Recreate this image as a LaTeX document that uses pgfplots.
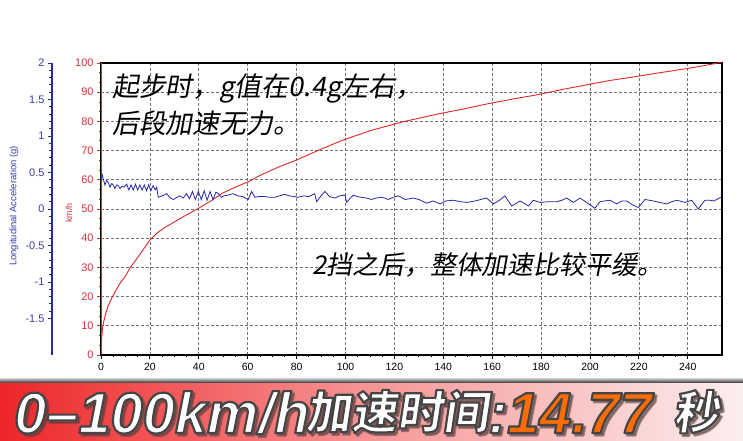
\documentclass[border=0pt]{standalone}
\usepackage{pgfplots}
\pgfplotsset{compat=1.18}
\usepackage{fontspec}
\setmainfont{Liberation Sans}
\newfontfamily\cjkslant{Noto Sans CJK SC}[FakeSlant=0.18]
\IfFontExistsTF{Noto Sans CJK SC Black}{%
  \newfontfamily\cjkbold{Noto Sans CJK SC Black}[FakeSlant=0.15]}{%
  \IfFontExistsTF{Noto Sans CJK SC Bold}{%
    \newfontfamily\cjkbold{Noto Sans CJK SC Bold}[FakeSlant=0.15]}{%
    \newfontfamily\cjkbold{Noto Sans CJK SC}[FakeSlant=0.15,FakeBold=3]}}
\definecolor{speedred}{RGB}{220,40,40}
\definecolor{redlab}{RGB}{215,50,60}
\definecolor{accblue}{RGB}{40,40,170}
\definecolor{bluelab}{RGB}{60,60,175}
\definecolor{gridgray}{RGB}{115,115,115}
\definecolor{bannerred}{RGB}{238,38,40}
\definecolor{bannermid}{RGB}{246,150,150}
\definecolor{bannerend}{RGB}{252,238,238}
\definecolor{orangenum}{RGB}{255,108,0}
\definecolor{shadowc}{RGB}{90,60,60}

\pgfplotstableread{
x v
0 3
0.3 6
0.6 9
1 11
2 14.5
3 17
4.4 19.5
6 22
8 24.8
9.8 26.8
12 30
15.3 33.7
18 37
20 39.4
22.8 41.7
26 43.6
30.3 45.7
35 48
39.8 50.2
45 52.8
49.4 55.3
55 57.5
60.2 59.3
65 61.5
73 64.5
80 66.8
90 70.5
99 73.6
110 76.8
123.6 79.9
138.7 82.7
148 84.2
158 86
168 87.6
179 89.2
189 91
198.6 92.5
208 94
218.4 95.3
228 96.6
238.2 97.9
246 99
253.5 100.2
}\speedtab

\pgfplotstableread{
x a
0 0.40
0.5 0.47
1 0.40
1.6 0.33
2.3 0.39
3 0.36
3.7 0.30
4.4 0.35
5 0.33
5.7 0.28
6.4 0.33
7.1 0.32
7.8 0.28
8.5 0.31
9.5 0.30
10.5 0.34
11.4 0.26
12.3 0.33
13.2 0.26
14.1 0.34
15 0.26
15.9 0.33
16.8 0.26
17.7 0.33
18.6 0.25
19.5 0.33
20.4 0.25
21.3 0.32
22.2 0.26
22.8 0.30
23.4 0.16
25 0.18
26.9 0.21
28.3 0.15
29.6 0.13
31 0.16
32.3 0.18
33.6 0.15
35 0.21
36.2 0.14
37.4 0.24
38.6 0.13
39.8 0.24
41 0.13
42.2 0.25
43.4 0.12
44.6 0.24
45.8 0.13
47 0.23
48 0.21
49.2 0.16
50.3 0.18
52 0.19
54 0.21
56 0.18
58 0.17
60.2 0.13
61.6 0.24
63 0.16
64.3 0.17
67 0.17
69 0.16
71 0.16
73 0.18
75.1 0.20
77 0.18
79 0.17
80.5 0.16
83 0.18
85 0.17
87.4 0.21
88.2 0.10
90 0.18
91.6 0.24
93.5 0.17
95.7 0.15
97.5 0.18
99.8 0.19
100.5 0.09
102 0.15
103.2 0.19
105 0.17
106.6 0.16
108.5 0.15
110.7 0.13
112.5 0.15
114.8 0.16
116 0.15
117.5 0.13
119.5 0.16
121.6 0.18
124.4 0.13
127.7 0.15
130 0.13
133.2 0.08
135.9 0.11
138.7 0.07
141 0.11
144.1 0.12
147 0.10
149.6 0.09
153 0.11
157.7 0.15
160.5 0.07
163 0.12
165.2 0.18
168 0.04
171.4 0.11
173 0.08
174.8 0.04
176.8 0.12
179.6 0.09
183 0.10
186.4 0.10
188.5 0.12
190.5 0.15
193.2 0.09
195.9 0.15
198.6 0.09
202 0.01
204.1 0.10
206 0.11
208.2 0.12
210.9 0.07
213 0.11
215 0.11
217.7 0.05
219.8 0.02
222.5 0.13
225.9 0.11
228.5 0.09
231.4 0.07
233.5 0.10
235.5 0.12
238.9 0.09
241.6 0.12
244.3 0.00
247 0.12
249 0.12
250.7 0.11
253.5 0.16
}\acctab

% shadow copy, then text with fill + dark stroke (PDF text render mode 2)
\newcommand\outtext[3]{%
  \node[anchor=base west, inner sep=0pt, text=shadowc, opacity=0.55, xshift=2.4bp, yshift=-2.4bp] at (#1) {\special{pdf:literal direct 2 Tr 2.5 w 1 j 0.35 0.25 0.25 RG}#2\special{pdf:literal direct 0 Tr}};
  \node[anchor=base west, inner sep=0pt, text=#3] at (#1) {\special{pdf:literal direct 2 Tr 2.2 w 1 j 0.27 0.27 0.27 RG}#2\special{pdf:literal direct 0 Tr}};}

\begin{document}
\begin{tikzpicture}
\useasboundingbox (0bp,0bp) rectangle (743bp,441bp);
\fill[white] (0bp,0bp) rectangle (743bp,441bp);

% speed axis (main)
\begin{axis}[
  at={(101bp,86bp)}, anchor=south west, scale only axis,
  width=621bp, height=292bp,
  xmin=0, xmax=254, ymin=0, ymax=100,
  xtick={0,20,...,240}, ytick={0,10,...,100},
  minor x tick num=3, minor y tick num=2,
  xtick pos=bottom, ytick pos=left,
  tick align=outside,
  major tick length=4bp, minor tick length=2.5bp,
  grid=major,
  major grid style={densely dashed, gridgray, line width=0.7bp},
  axis line style={black, line width=1.2bp},
  y tick style={draw=speedred, line width=0.8bp},
  x tick style={draw=black, line width=0.8bp},
  /pgf/number format/assume math mode=true,
  x tick label style={font=\fontsize{10.5}{12}\selectfont, text=black, yshift=-1bp},
  y tick label style={font=\fontsize{11}{12}\selectfont, text=redlab},
  clip=true,
]
\addplot[speedred, line width=0.9bp] table[x=x, y=v] {\speedtab};
\draw[speedred, line width=2.6bp] (rel axis cs:0,0) -- (rel axis cs:0,1);
\draw[black, line width=2bp] (rel axis cs:0,0) -- (rel axis cs:1,0);
\end{axis}

% acceleration data overlay
\begin{axis}[
  at={(101bp,86bp)}, anchor=south west, scale only axis,
  width=621bp, height=292bp,
  xmin=0, xmax=254, ymin=-2, ymax=2,
  axis lines=none, ticks=none,
]
\addplot[accblue, line width=0.8bp] table[x=x, y=a] {\acctab};
\end{axis}

% acceleration axis (left, blue)
\begin{axis}[
  at={(52bp,86bp)}, anchor=south west, scale only axis,
  width=20bp, height=292bp,
  xmin=0, xmax=1, ymin=-2, ymax=2,
  axis x line=none, axis y line*=left,
  ytick={-1.5,-1,...,2},
  minor y tick num=4,
  tick align=outside,
  major tick length=4bp, minor tick length=2.5bp,
  axis line style={accblue, line width=2bp},
  y tick style={draw=accblue, line width=0.8bp},
  /pgf/number format/assume math mode=true,
  y tick label style={font=\fontsize{11}{12}\selectfont, text=bluelab},
]
\addplot[draw=none] coordinates {(0,0)};
\end{axis}

\node[rotate=90, text=bluelab, font=\fontsize{9.5}{11}\selectfont] at (14bp,235bp) {Longitudinal Acceleration (g)};
\node[rotate=90, text=redlab, font=\fontsize{9}{11}\selectfont] at (69bp,228bp) {km/h};

% annotations
\node[anchor=west, inner sep=0pt, font=\cjkslant\fontsize{27}{29}\selectfont] at (112bp,352bp) {起步时，g值在0.4g左右，};
\node[anchor=west, inner sep=0pt, font=\cjkslant\fontsize{27}{29}\selectfont] at (112bp,318bp) {后段加速无力。};
\node[anchor=west, inner sep=0pt, font=\cjkslant\fontsize{26}{28}\selectfont] at (312bp,176bp) {2挡之后，整体加速比较平缓。};

% banner
\shade[left color=bannerred, right color=bannerend, middle color=bannermid] (0bp,0bp) rectangle (743bp,59bp);
\shade[top color=gray!60, bottom color=black!75] (0bp,58.5bp) rectangle (743bp,62bp);
\outtext{14bp,8bp}{\fontsize{58}{60}\selectfont\bfseries\itshape 0–100km/h}{white}
\outtext{305bp,12bp}{\cjkbold\fontsize{46}{48}\selectfont 加速时间}{white}
\outtext{488bp,8bp}{\fontsize{58}{60}\selectfont\bfseries\itshape :}{white}
\outtext{507bp,8bp}{\fontsize{58}{60}\selectfont\bfseries\itshape 14.77}{orangenum}
\outtext{673bp,12bp}{\cjkbold\fontsize{46}{48}\selectfont 秒}{white}
\end{tikzpicture}
\end{document}
